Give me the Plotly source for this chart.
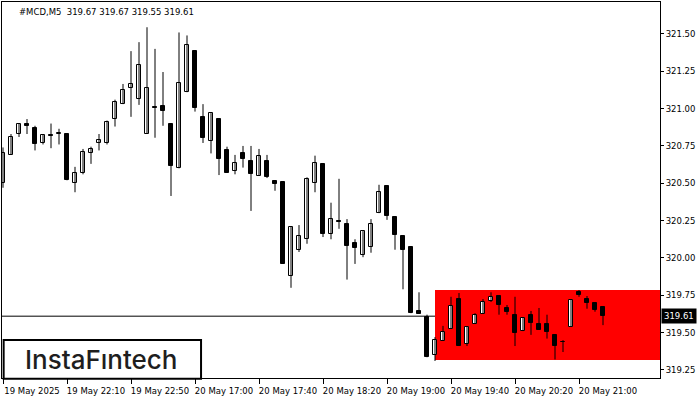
import plotly.graph_objects as go

# ---- data ----
opens = [320.50, 320.69, 320.83, 320.90, 320.87, 320.77, 320.825, 320.83, 320.83, 320.50,
         320.57, 320.70, 320.77, 320.77, 320.93, 321.03, 321.14, 321.065, 320.83, 321.012,
         321.02, 320.90, 320.60, 321.11, 321.385, 320.945, 320.785, 320.93, 320.725, 320.585,
         320.705, 320.65, 320.55, 320.65, 320.515, 320.51, 319.88, 320.055, 320.125, 320.50,
         320.63, 320.16, 320.245, 320.23, 320.10, 320.02, 320.075, 320.30, 320.48, 320.275,
         320.145, 320.075, 319.645, 319.605, 319.35, 319.445, 319.525, 319.725, 319.425, 319.56,
         319.625, 319.71, 319.745, 319.665, 319.62, 319.51, 319.62, 319.56, 319.56, 319.485,
         319.44, 319.54, 319.77, 319.725, 319.70, 319.67]
highs = [320.74, 320.83, 320.90, 320.93, 320.885, 320.83, 320.90, 320.865, 320.83, 320.61,
         320.73, 320.745, 320.83, 320.92, 321.06, 321.165, 321.385, 321.445, 321.545, 321.40,
         321.245, 320.90, 321.51, 321.49, 321.385, 321.03, 320.97, 320.93, 320.745, 320.69,
         320.75, 320.75, 320.73, 320.69, 320.515, 320.51, 320.21, 320.22, 320.54, 320.685,
         320.63, 320.37, 320.53, 320.26, 320.125, 320.18, 320.26, 320.49, 320.48, 320.275,
         320.145, 320.075, 319.77, 319.62, 319.47, 319.545, 319.74, 319.765, 319.54, 319.63,
         319.725, 319.77, 319.745, 319.685, 319.74, 319.60, 319.645, 319.665, 319.62, 319.485,
         319.45, 319.72, 319.785, 319.745, 319.70, 319.67]
lows = [320.47, 320.69, 320.81, 320.83, 320.72, 320.76, 320.735, 320.76, 320.52, 320.44,
        320.56, 320.63, 320.72, 320.76, 320.88, 321.03, 320.945, 321.025, 320.83, 320.805,
        320.885, 320.415, 320.60, 321.11, 320.98, 320.77, 320.70, 320.555, 320.57, 320.56,
        320.605, 320.315, 320.55, 320.535, 320.45, 319.96, 319.80, 320.04, 320.095, 320.44,
        320.14, 320.125, 320.195, 319.855, 319.96, 320.005, 320.035, 320.30, 320.255, 320.055,
        319.79, 319.63, 319.625, 319.335, 319.31, 319.445, 319.525, 319.41, 319.41, 319.56,
        319.625, 319.705, 319.62, 319.62, 319.41, 319.51, 319.485, 319.52, 319.46, 319.32,
        319.37, 319.54, 319.74, 319.66, 319.64, 319.55]
closes = [320.70, 320.81, 320.90, 320.885, 320.76, 320.825, 320.817, 320.836, 320.52, 320.57,
          320.71, 320.73, 320.79, 320.91, 321.045, 321.125, 321.165, 321.29, 321.14, 321.004,
          320.985, 320.615, 321.17, 321.425, 321.005, 320.805, 320.97, 320.665, 320.57, 320.635,
          320.665, 320.56, 320.685, 320.54, 320.495, 319.96, 320.21, 320.145, 320.53, 320.635,
          320.16, 320.26, 320.24, 320.08, 320.065, 320.18, 320.23, 320.44, 320.28, 320.155,
          320.055, 319.63, 319.625, 319.335, 319.45, 319.505, 319.68, 319.41, 319.54, 319.62,
          319.705, 319.74, 319.685, 319.64, 319.50, 319.60, 319.565, 319.52, 319.505, 319.41,
          319.435, 319.72, 319.75, 319.70, 319.65, 319.61]

tick_positions = [0, 8, 16, 24, 32, 40, 48, 56, 64, 72]
tick_labels = ["19 May 2025", "19 May 22:10", "19 May 22:50", "20 May 17:00", "20 May 17:40",
               "20 May 18:20", "20 May 19:00", "20 May 19:40", "20 May 20:20", "20 May 21:00"]
price_ticks = [319.25, 319.50, 319.75, 320.00, 320.25, 320.50, 320.75, 321.00, 321.25, 321.50]

zone_start = 54
zone_top = 319.786
zone_bottom = 319.317

symbol = "#MCD,M5"
logo_text = "InstaFıntech"

# ---- build ----
n = len(opens)
xs = list(range(n))
FONT = "DejaVu Sans"

wick_x, wick_y = [], []
for i in xs:
    wick_x += [i, i, None]
    wick_y += [lows[i], highs[i], None]

bases = [min(o, c) for o, c in zip(opens, closes)]
heights = [abs(c - o) for o, c in zip(opens, closes)]
colors = ["white" if c >= o else "black" for o, c in zip(opens, closes)]

fig = go.Figure()
fig.add_trace(go.Scatter(x=wick_x, y=wick_y, mode="lines",
                         line=dict(color="black", width=1), hoverinfo="skip",
                         showlegend=False))
fig.add_trace(go.Bar(x=xs, y=heights, base=bases, width=0.55,
                     marker=dict(color=colors, line=dict(color="black", width=1)),
                     showlegend=False))

x_min, x_max = -0.125, n + 6.125
y_min, y_max = 319.196, 321.714

# red zone
fig.add_shape(type="rect", xref="x", yref="y", x0=zone_start, x1=x_max,
              y0=zone_bottom, y1=zone_top, fillcolor="#FF0000",
              line=dict(width=0), layer="below")
# last price line
last = closes[-1]
fig.add_shape(type="line", xref="paper", yref="y", x0=0, x1=1, y0=last, y1=last,
              line=dict(color="black", width=1), layer="below")

# last price label
fig.add_annotation(xref="paper", yref="y", x=1, y=last, xanchor="left", yanchor="middle",
                   xshift=1, text=f"{last:.2f}", showarrow=False,
                   font=dict(family=FONT, size=8.5, color="white"),
                   bgcolor="black", borderpad=2)

# title
fig.add_annotation(xref="paper", yref="paper", x=0, y=1, xanchor="left", yanchor="top",
                   xshift=15, yshift=-3, showarrow=False,
                   text=f"{symbol}  {opens[-1]:.2f} {highs[-1]:.2f} {lows[-1]:.2f} {closes[-1]:.2f}",
                   font=dict(family=FONT, size=8.5, color="black"))

# logo box
fig.add_shape(type="rect", xref="paper", yref="paper", x0=0.0025, x1=0.3025, y0=-0.002, y1=0.101,
              fillcolor="white", line=dict(color="black", width=2), layer="above")
fig.add_annotation(xref="paper", yref="paper", x=0.1515, y=0.05, xanchor="center", yanchor="middle",
                   showarrow=False, text=logo_text,
                   font=dict(family="Inter", size=26, weight=500, color="#1e1e1e"))

fig.update_layout(
    width=700, height=400,
    margin=dict(l=2, r=40, t=2, b=22),
    paper_bgcolor="white", plot_bgcolor="white",
    barmode="overlay", bargap=0,
    showlegend=False,
    font=dict(family=FONT, size=8.5, color="black"),
)
fig.update_xaxes(range=[x_min, x_max], showgrid=False, zeroline=False,
                 showline=True, mirror=True, linecolor="black", linewidth=1,
                 ticks="outside", ticklen=5, tickcolor="black", tickwidth=1,
                 tickvals=tick_positions, ticktext=tick_labels,
                 ticklabelshift=29, tickfont=dict(family=FONT, size=8.5, color="black"))
fig.update_yaxes(range=[y_min, y_max], side="right", showgrid=False, zeroline=False,
                 showline=True, mirror=True, linecolor="black", linewidth=1,
                 ticks="outside", ticklen=3, tickcolor="black", tickwidth=1,
                 tickvals=price_ticks, tickformat=".2f",
                 tickfont=dict(family=FONT, size=8.5, color="black"))

fig.write_html("out.html", config={"displayModeBar": False},
               post_script="document.body.style.margin='0';document.body.style.overflow='hidden';")
